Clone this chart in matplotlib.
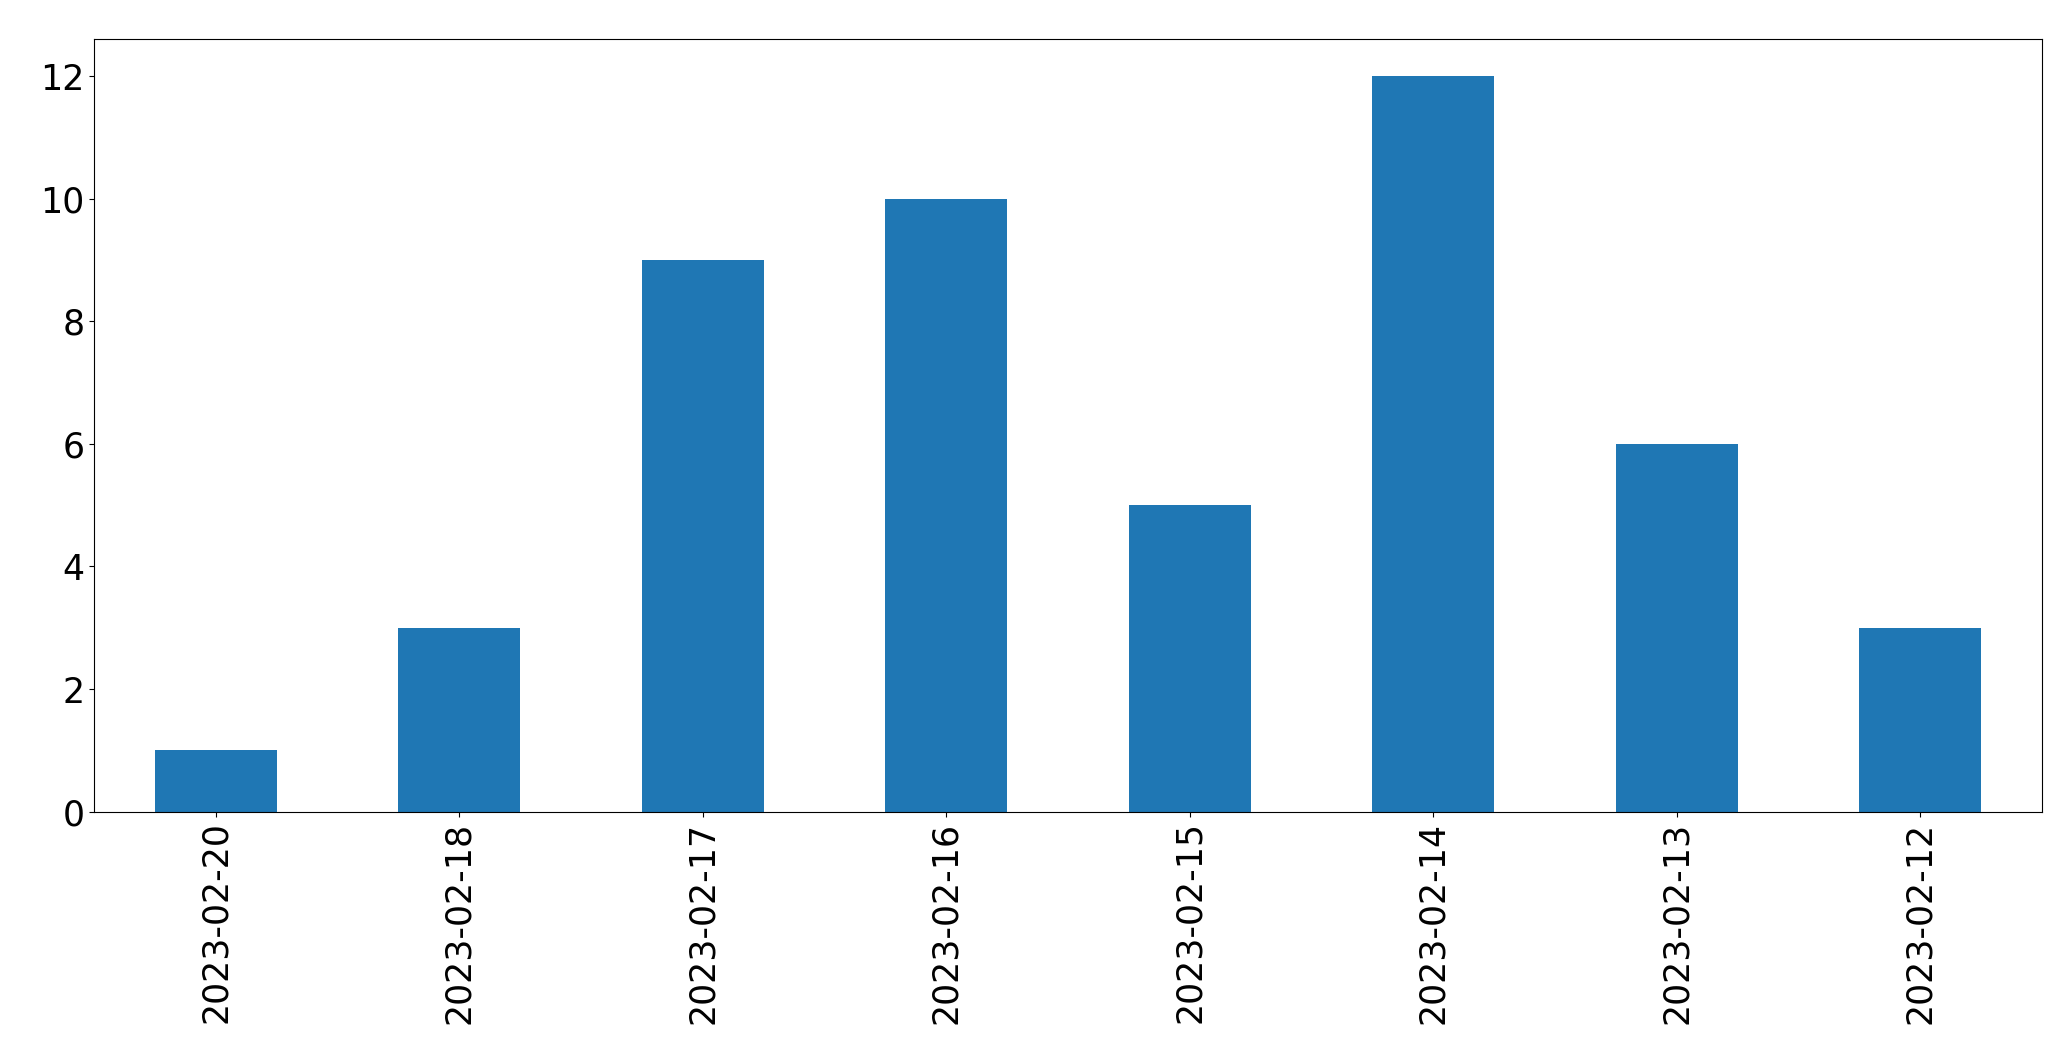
import matplotlib
matplotlib.use('Agg')
import matplotlib.pyplot as plt
import pandas as pd

dates = ['2023-02-20', '2023-02-18', '2023-02-17', '2023-02-16',
         '2023-02-15', '2023-02-14', '2023-02-13', '2023-02-12']
counts = [1, 3, 9, 10, 5, 12, 6, 3]

plt.rcParams['font.size'] = 25

fig = plt.figure(figsize=(20.71, 10.61), dpi=100)
ax = fig.add_axes([0.0454, 0.235, 0.9406, 0.728])
s = pd.Series(counts, index=dates)
s.plot(kind='bar', ax=ax, color='#1f77b4')
ax.set_xlabel('')
fig.savefig('out.png', dpi=100)
